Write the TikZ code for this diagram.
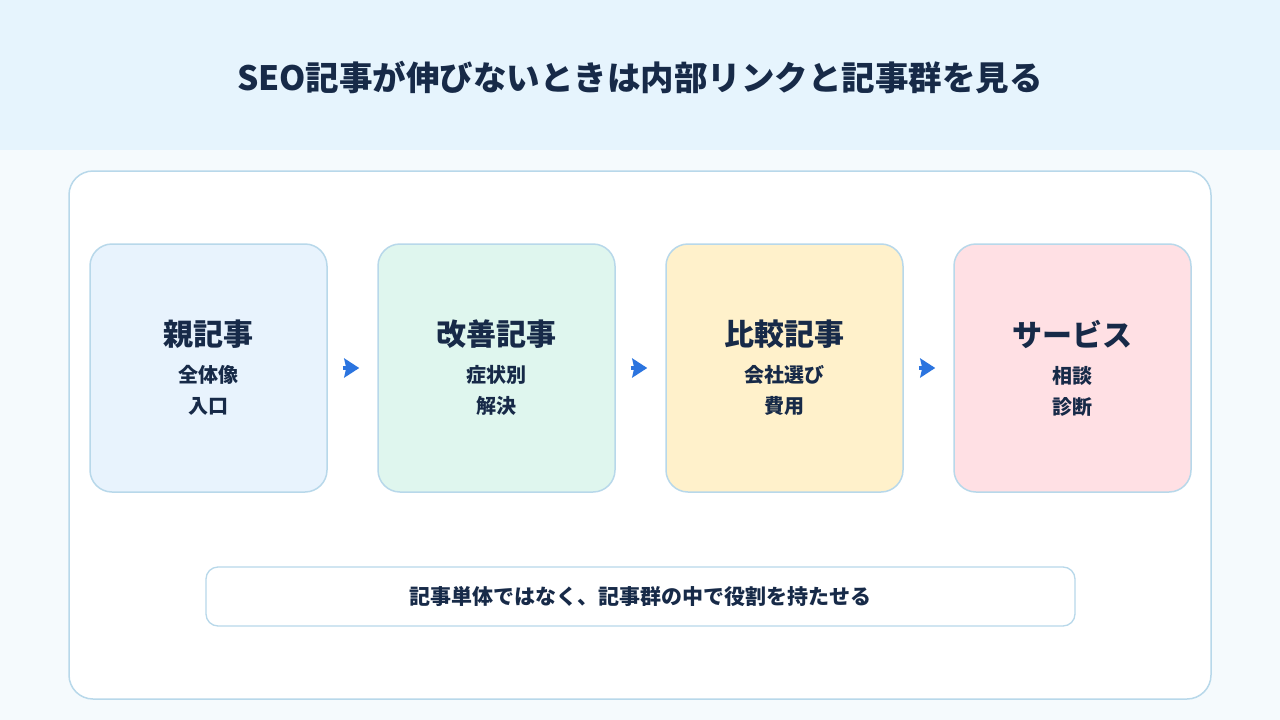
\documentclass[tikz,border=0pt]{standalone}
\usepackage{fontspec}
\setmainfont{Noto Sans CJK JP}
\usepackage{xcolor}
\usepackage{tikz}
\usetikzlibrary{arrows.meta, positioning}
\definecolor{fondo}{HTML}{F5FAFD}
\definecolor{banda}{HTML}{E6F4FD}
\definecolor{tinta}{HTML}{172A48}
\definecolor{borde}{HTML}{B8D8EA}
\definecolor{flecha}{HTML}{2B74DF}
\definecolor{cajaA}{HTML}{E8F3FD}
\definecolor{cajaB}{HTML}{DFF6EE}
\definecolor{cajaC}{HTML}{FFF1CB}
\definecolor{cajaD}{HTML}{FFE0E4}
\newcommand{\etapatexto}[3]{{\fontsize{30}{36}\selectfont #1}\\[5pt]#2\\[-1pt]#3}

\begin{document}
\begin{tikzpicture}[x=1pt, y=-1pt,
      etapa/.style={draw=borde, line width=1.5pt, rounded corners=22pt,
                    minimum width=237pt, minimum height=248pt,
                    align=center, text=tinta, font=\bfseries\fontsize{20}{32}\selectfont},
      nota/.style={draw=borde, line width=1.3pt, rounded corners=12pt, fill=white,
                   minimum width=869pt, minimum height=59pt,
                   text=tinta, font=\bfseries\fontsize{21}{25}\selectfont},
      paso/.style={->, flecha, line width=4pt, shorten <=15pt, shorten >=18pt},
      >={Stealth[length=15pt, width=19pt, inset=2pt]}]
    \useasboundingbox (0,0) rectangle (1280,720);
    \fill[fondo] (0,0) rectangle (1280,720);
    \fill[banda] (0,0) rectangle (1280,150);
    \node[text=tinta, font=\bfseries\fontsize{33.5}{40}\selectfont] (titulo) at (640,78)
          {SEO記事が伸びないときは内部リンクと記事群を見る};
    \draw[borde, line width=1.5pt, fill=white, rounded corners=24pt]
      (69,171) rectangle (1211,699);
    \node[etapa, fill=cajaA] (E1) at (208.5,368) {\etapatexto{親記事}{全体像}{入口}};
    \node[etapa, fill=cajaB] (E2) at (496.5,368) {\etapatexto{改善記事}{症状別}{解決}};
    \node[etapa, fill=cajaC] (E3) at (784.5,368) {\etapatexto{比較記事}{会社選び}{費用}};
    \node[etapa, fill=cajaD] (E4) at (1072.5,368) {\etapatexto{サービス}{相談}{診断}};
    \draw[paso] (E1.east) -- (E2.west);
    \draw[paso] (E2.east) -- (E3.west);
    \draw[paso] (E3.east) -- (E4.west);
    \node[nota] (mensaje) at (640.5,596.5) {記事単体ではなく、記事群の中で役割を持たせる};
  \end{tikzpicture}
\end{document}
